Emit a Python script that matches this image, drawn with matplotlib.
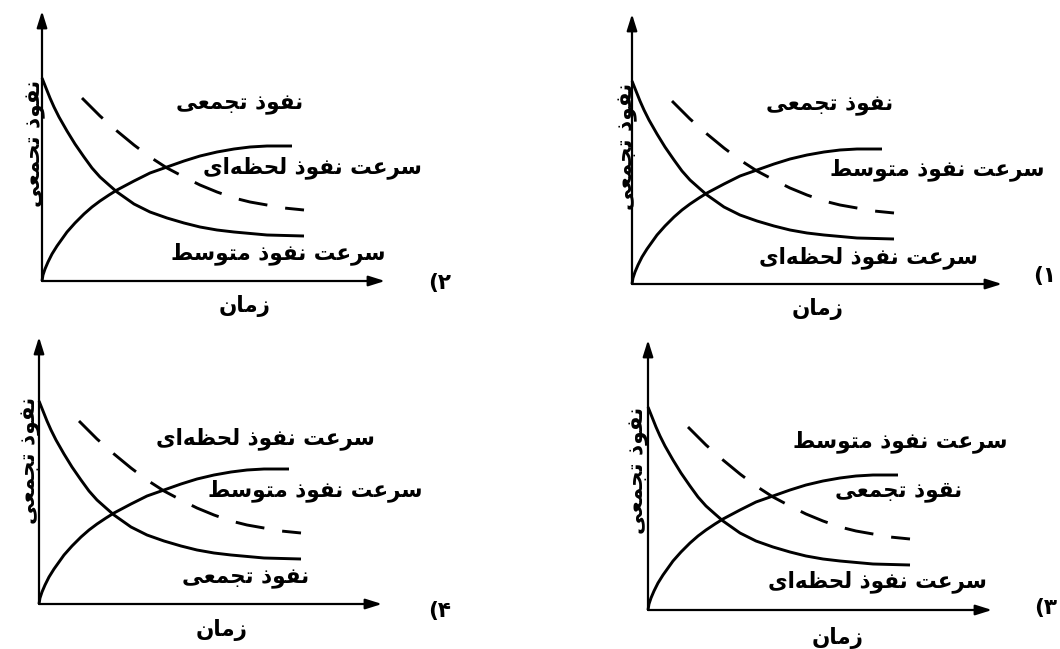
import matplotlib
matplotlib.use('Agg')
import matplotlib.pyplot as plt

# curves (same drawing in every panel)
fall_t = [0, 4, 8, 12, 17, 21, 25, 33, 42, 50, 58, 67, 75, 92, 108, 125, 142, 158, 175, 192, 225, 262]
fall_v = [203, 193, 183, 174, 164, 157, 150, 137, 124, 113, 104, 96, 89, 77, 69, 63, 58, 54, 51, 49, 46, 45]
rise_t = [0, 1, 3, 6, 10, 15, 20, 25, 33, 42, 50, 58, 67, 75, 92, 108, 125, 142, 158, 175, 192, 208, 225, 250]
rise_v = [0, 6, 12, 19, 27, 35, 42, 49, 58, 67, 74, 80, 86, 91, 100, 108, 114, 120, 125, 129, 132, 134, 135, 135]
dash_t = [40, 58, 75, 92, 108, 125, 142, 158, 175, 192, 208, 225, 242, 262]
dash_v = [183, 165, 150, 136, 124, 113, 104, 96, 89, 83, 79, 76, 73, 71]

# texts
cum = 'نفوذ تجمعی'
cum_typo = 'نقوذ تجمعی'
inst = 'سرعت نفوذ لحظه\u200cای'
avg = 'سرعت نفوذ متوسط'
time_label = 'زمان'
options = ['۲)', '۱)', '۴)', '۳)']
panel_labels = [
    [cum, inst, avg],
    [cum, avg, inst],
    [inst, avg, cum],
    [avg, cum_typo, inst],
]

# layout (pixels)
W, H = 1060, 649
origins = [(42, 281), (632, 284), (39, 604), (648, 610)]
axis_len = [343, 370, 343, 344]
axis_hgt = [270, 270, 267, 270]
label_pos = [
    [(198, 176), (270, 113), (236, 27)],
    [(198, 178), (305, 114), (236, 26)],
    [(226, 165), (276, 113), (207, 25)],
    [(252, 168), (251, 118), (229, 28)],
]
option_pos = [(398, -2), (413, 8), (401, -7), (398, 2)]
time_pos = [(203, -25), (186, -25), (183, -26), (190, -28)]
ylab_pos = [(-6, 138), (-4, 138), (-8, 144), (-9, 140)]

# minimal arabic shaping (isolated, final, initial, medial)
FORMS = {
    'ا': ('\uFE8D', '\uFE8E', None, None),
    'ت': ('\uFE95', '\uFE96', '\uFE97', '\uFE98'),
    'ج': ('\uFE9D', '\uFE9E', '\uFE9F', '\uFEA0'),
    'ح': ('\uFEA1', '\uFEA2', '\uFEA3', '\uFEA4'),
    'ذ': ('\uFEAB', '\uFEAC', None, None),
    'ر': ('\uFEAD', '\uFEAE', None, None),
    'ز': ('\uFEAF', '\uFEB0', None, None),
    'س': ('\uFEB1', '\uFEB2', '\uFEB3', '\uFEB4'),
    'ط': ('\uFEC1', '\uFEC2', '\uFEC3', '\uFEC4'),
    'ظ': ('\uFEC5', '\uFEC6', '\uFEC7', '\uFEC8'),
    'ع': ('\uFEC9', '\uFECA', '\uFECB', '\uFECC'),
    'ف': ('\uFED1', '\uFED2', '\uFED3', '\uFED4'),
    'ق': ('\uFED5', '\uFED6', '\uFED7', '\uFED8'),
    'ل': ('\uFEDD', '\uFEDE', '\uFEDF', '\uFEE0'),
    'م': ('\uFEE1', '\uFEE2', '\uFEE3', '\uFEE4'),
    'ن': ('\uFEE5', '\uFEE6', '\uFEE7', '\uFEE8'),
    'ه': ('\uFEE9', '\uFEEA', '\uFEEB', '\uFEEC'),
    'و': ('\uFEED', '\uFEEE', None, None),
    'ی': ('\uFEEF', '\uFEF0', '\uFEF3', '\uFEF4'),
}


def shape(text):
    out = []
    for i, c in enumerate(text):
        if c not in FORMS:
            out.append('' if c == '\u200c' else c)
            continue
        prev = text[i - 1] if i > 0 else ''
        nxt = text[i + 1] if i + 1 < len(text) else ''
        join_prev = prev in FORMS and FORMS[prev][2] is not None
        join_next = FORMS[c][2] is not None and nxt in FORMS
        iso, fin, ini, med = FORMS[c]
        if join_prev and join_next:
            out.append(med)
        elif join_prev:
            out.append(fin)
        elif join_next:
            out.append(ini)
        else:
            out.append(iso)
    s = ''.join(out)[::-1]
    return s.translate(str.maketrans('()', ')('))


plt.rcParams['font.family'] = ['DejaVu Sans']
plt.rcParams['lines.scale_dashes'] = False

fig = plt.figure(figsize=(W / 100, H / 100), dpi=100)
fig.patch.set_facecolor('white')
fs = 15.5

for k in range(4):
    ox, oy = origins[k]
    L, Ht = axis_len[k], axis_hgt[k]
    ax = fig.add_axes([ox / W, (H - oy) / H, L / W, Ht / H])
    ax.set_xlim(0, L)
    ax.set_ylim(0, Ht)
    ax.axis('off')

    arrow = dict(arrowstyle='-|>,head_length=0.7,head_width=0.22', mutation_scale=14,
                 lw=1.6, color='black', shrinkA=0, shrinkB=0)
    ax.annotate('', xy=(L, 0), xytext=(0, 0), arrowprops=arrow, annotation_clip=False)
    ax.annotate('', xy=(0, Ht), xytext=(0, 0), arrowprops=arrow, annotation_clip=False)

    ax.plot(fall_t, fall_v, color='black', lw=2.1, clip_on=False, solid_capstyle='butt')
    ax.plot(rise_t, rise_v, color='black', lw=2.1, clip_on=False, solid_capstyle='butt')
    ax.plot(dash_t, dash_v, color='black', lw=2.1, clip_on=False,
            dashes=(21, 13), dash_capstyle='butt')

    for txt, (tx, ty) in zip(panel_labels[k], label_pos[k]):
        ax.text(tx, ty, shape(txt), fontsize=fs, fontweight='bold',
                ha='center', va='center', clip_on=False)
    ax.text(*time_pos[k], shape(time_label), fontsize=fs, fontweight='bold',
            ha='center', va='center', clip_on=False)
    ax.text(*ylab_pos[k], shape(cum), fontsize=fs, fontweight='bold', rotation=90,
            ha='center', va='center', clip_on=False)
    ax.text(*option_pos[k], shape(options[k]), fontsize=fs, fontweight='bold',
            ha='center', va='center', clip_on=False)

fig.savefig('out.png', dpi=100, facecolor='white')
